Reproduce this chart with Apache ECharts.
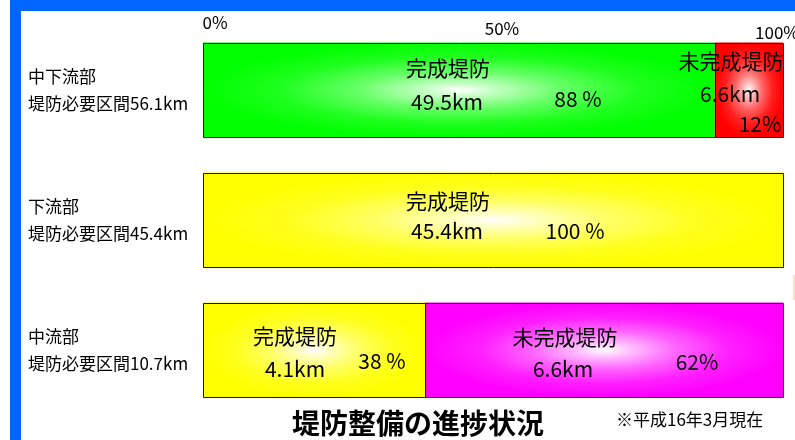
<!DOCTYPE html>
<html><head><meta charset="utf-8">
<script src="https://cdn.jsdelivr.net/npm/echarts@6/dist/echarts.min.js"></script>
<style>html,body{margin:0;padding:0;background:#fff}#c{width:795px;height:440px}</style>
</head><body><div id="c"></div><script>
// ---- data ----
const categories = ['中下流部\n堤防必要区間56.1km', '下流部\n堤防必要区間45.4km', '中流部\n堤防必要区間10.7km'];
const doneKm = [49.5, 45.4, 4.1];
const undoneKm = [6.6, 0, 6.6];
const donePctText = ['88 %', '100 %', '38 %'];
const undonePctText = ['12%', '', '62%'];
const doneName = '完成堤防';
const undoneName = '未完成堤防';
const tickValues = [0, 50, 100];
const tickLabels = ['0%', '50%', '100%'];

// ---- styles ----
const FONT = '"Noto Sans CJK JP", "Noto Sans", sans-serif';
const doneColors = ['#00FF00', '#FFFF00', '#FFFF00'];
const undoneColors = ['#FF0000', '#FF00FF', '#FF00FF'];
// label offsets (px): done anchored at segment start, undone at segment end; [dx, dy from row centre]
const labelLayout = {
  done: [
    { name: [245, -21.5], km: [244, 12.5], pct: [375, 9.5] },
    { name: [245, -18.5], km: [244, 11.5], pct: [372, 11.5] },
    { name: [92, -14], km: [92, 19], pct: [179, 11] }
  ],
  undone: [
    { name: [-52, -28.5], km: [-53, 4.5], pct: [-23, 34.5] },
    null,
    { name: [-218, -13], km: [-220, 19], pct: [-86, 12] }
  ]
};

function mix(hex, t) { // t = amount of white
  const n = parseInt(hex.slice(1), 16);
  const r = (n >> 16) & 255, g = (n >> 8) & 255, b = n & 255;
  const f = c => Math.round(c + (255 - c) * t);
  return 'rgb(' + f(r) + ',' + f(g) + ',' + f(b) + ')';
}
function grad(hex) {
  return { type: 'radial', x: 0.5, y: 0.5, r: 0.5, colorStops: [
    { offset: 0, color: '#ffffff' },
    { offset: 0.15, color: mix(hex, 0.75) },
    { offset: 0.4, color: mix(hex, 0.4) },
    { offset: 0.7, color: mix(hex, 0.12) },
    { offset: 1, color: hex }
  ] };
}

const doneData = [], undoneData = [];
categories.forEach((c, i) => {
  const total = doneKm[i] + undoneKm[i];
  doneData.push([0, doneKm[i] / total * 100, i, doneKm[i]]);
  undoneData.push([doneKm[i] / total * 100, 100, i, undoneKm[i]]);
});

function makeRender(kind) {
  return function (params, api) {
    const s = api.value(0), e = api.value(1), row = api.value(2), km = api.value(3);
    if (!(km > 0)) return;
    const p0 = api.coord([s, row]), p1 = api.coord([e, row]);
    const h = api.size([0, 1])[1] * 0.73;
    const x = p0[0], w = p1[0] - p0[0], cy = p0[1], y = cy - h / 2;
    const color = kind === 'done' ? doneColors[row] : undoneColors[row];
    const lay = labelLayout[kind][row];
    const anchor = kind === 'done' ? x : x + w;
    const name = kind === 'done' ? doneName : undoneName;
    const pct = kind === 'done' ? donePctText[row] : undonePctText[row];
    const txt = (t, o) => ({ type: 'text', x: anchor + o[0], y: cy + o[1], z2: 10,
      style: { text: t, fontSize: 21, fontFamily: FONT, fill: '#000', align: 'center', verticalAlign: 'middle' } });
    const x0 = Math.round(x) + 0.5, x1 = Math.round(x + w) + 0.5;
    const y0 = Math.round(y) + 0.5, y1 = Math.round(y + h) + 0.5;
    return { type: 'group', children: [
      { type: 'rect', x: x, y: y, scaleX: w / h, shape: { x: 0, y: 0, width: h, height: h }, style: { fill: grad(color) } },
      { type: 'rect', shape: { x: x0, y: y0, width: x1 - x0, height: y1 - y0 }, style: { fill: 'none', stroke: '#1a1a1a', lineWidth: 1 } },
      txt(name, lay.name), txt(km + 'km', lay.km), txt(pct, lay.pct)
    ] };
  };
}

const chart = echarts.init(document.getElementById('c'), null, { renderer: 'canvas' });
chart.setOption({
  animation: false,
  backgroundColor: '#fff',
  textStyle: { fontFamily: FONT },
  grid: { left: 203, width: 580, top: 25, height: 390, containLabel: false, outerBoundsMode: 'none' },
  xAxis: {
    type: 'value', min: 0, max: 100, interval: 50, position: 'top', offset: -18,
    axisLine: { show: false }, axisTick: { show: false }, splitLine: { show: false },
    axisLabel: {
      margin: 2, fontSize: 17, color: '#000', fontFamily: FONT,
      formatter: v => { const k = tickValues.indexOf(v); return k < 0 ? '' : '{t' + k + '|' + tickLabels[k] + '}'; },
      rich: {
        t0: { fontSize: 17, fontFamily: FONT, color: '#000', padding: [0, 0, 10, 24] },
        t1: { fontSize: 17, fontFamily: FONT, color: '#000', padding: [0, 0, 4, 18] },
        t2: { fontSize: 17, fontFamily: FONT, color: '#000', padding: [0, 12, 0, 0] }
      }
    }
  },
  yAxis: {
    type: 'category', data: categories, inverse: true,
    axisLine: { show: false }, axisTick: { show: false }, splitLine: { show: false },
    axisLabel: { align: 'left', margin: 175, fontSize: 17, lineHeight: 27, color: '#000', fontFamily: FONT }
  },
  title: [
    { text: '堤防整備の進捗状況', left: 292, top: 409, padding: 0,
      textStyle: { fontSize: 28, fontWeight: 'bold', color: '#000', fontFamily: FONT } },
    { text: '※平成16年3月現在', left: 616, top: 411, padding: 0,
      textStyle: { fontSize: 17, fontWeight: 'normal', color: '#000', fontFamily: FONT } }
  ],
  graphic: [
    { type: 'rect', silent: true, shape: { x: 10, y: 0, width: 11, height: 440 }, style: { fill: '#0066FF' } },
    { type: 'rect', silent: true, shape: { x: 10, y: 0, width: 785, height: 11 }, style: { fill: '#0066FF' } },
    { type: 'rect', silent: true, shape: { x: 793, y: 275, width: 2, height: 25 }, style: { fill: '#FFE4B8' } }
  ],
  series: [
    { type: 'custom', name: doneName, renderItem: makeRender('done'), encode: { x: [0, 1], y: 2 }, data: doneData },
    { type: 'custom', name: undoneName, renderItem: makeRender('undone'), encode: { x: [0, 1], y: 2 }, data: undoneData }
  ]
});
</script></body></html>
